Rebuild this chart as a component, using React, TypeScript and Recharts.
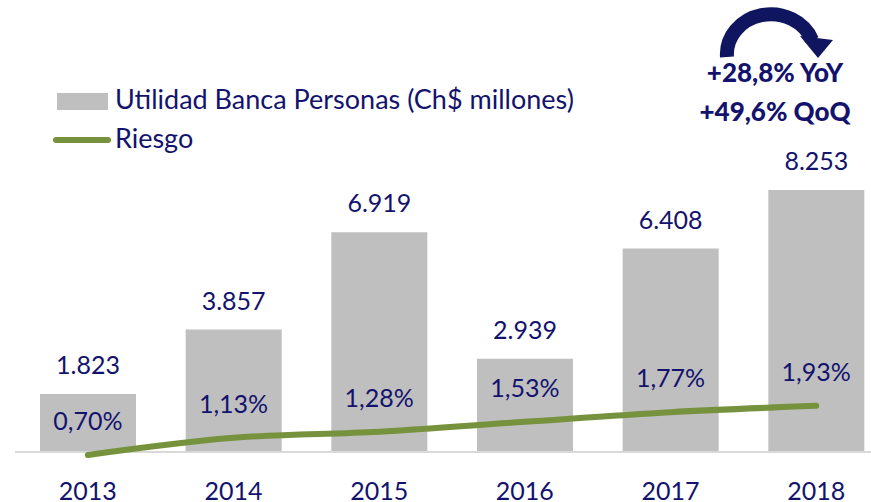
import React from "react";
import {
  ComposedChart,
  Bar,
  Line,
  XAxis,
  YAxis,
  LabelList,
  ReferenceLine,
} from "recharts";

const years = ["2013", "2014", "2015", "2016", "2017", "2018"];
const utilidad = [1823, 3857, 6919, 2939, 6408, 8253];
const riesgo = [0.7, 1.13, 1.28, 1.53, 1.77, 1.93];

const NAVY = "#13136e";
const GREEN = "#76923c";
const GRAY = "#bfbfbf";
const FONT = "Lato, 'Open Sans', sans-serif";

const data = years.map((y, i) => ({ year: y, utilidad: utilidad[i], riesgo: riesgo[i] }));

const fmtMiles = (v: number) => v.toLocaleString("de-DE");
const fmtPct = (v: number) => v.toFixed(2).replace(".", ",") + "%";

// legend + YoY/QoQ note drawn on top of the chart
function Overlay() {
  return (
    <svg
      width={871}
      height={160}
      style={{ position: "absolute", left: 0, top: 0, pointerEvents: "none" }}
    >
      <rect x={57} y={93} width={51} height={17} fill={GRAY} />
      <text x={115} y={109} fill={NAVY} fontSize={27} fontFamily={FONT}>
        Utilidad Banca Personas (Ch$ millones)
      </text>
      <line x1={56} y1={140} x2={108} y2={140} stroke={GREEN} strokeWidth={6} strokeLinecap="round" />
      <text x={115} y={148} fill={NAVY} fontSize={27} fontFamily={FONT}>
        Riesgo
      </text>

      <path d="M 727 57 A 44 40 0 0 1 812 40" fill="none" stroke="#0f155f" strokeWidth={14} />
      <polygon points="800,36 833,40 818,58" fill="#0f155f" />
      <text x={775} y={82} textAnchor="middle" fill={NAVY} fontSize={26} fontWeight="900" fontFamily={FONT}>
        +28,8% YoY
      </text>
      <text x={775} y={121} textAnchor="middle" fill={NAVY} fontSize={26} fontWeight="900" fontFamily={FONT}>
        +49,6% QoQ
      </text>
    </svg>
  );
}

export default function App() {
  return (
    <div style={{ position: "absolute", left: 0, top: 0, width: 871, height: 502, overflow: "hidden", background: "#fff" }}>
      <ComposedChart
        width={889}
        height={502}
        data={data}
        margin={{ top: 132, right: 0, bottom: 0, left: 15 }}
        barCategoryGap={0}
      >
        <XAxis
          dataKey="year"
          axisLine={false}
          tickLine={false}
          height={32}
          tickMargin={6}
          interval={0}
          tick={{ fill: NAVY, fontSize: 25, fontFamily: FONT }}
        />
        <YAxis yAxisId="left" hide type="number" domain={[-567, 10079]} allowDataOverflow />
        <YAxis yAxisId="right" orientation="right" hide type="number" domain={[0.325, 8.775]} allowDataOverflow />
        <ReferenceLine yAxisId="left" y={0} stroke="#d9d9d9" strokeWidth={2} />
        <Bar yAxisId="left" dataKey="utilidad" fill={GRAY} barSize={96} isAnimationActive={false}>
          <LabelList
            dataKey="utilidad"
            position="top"
            offset={20}
            formatter={(v: any) => fmtMiles(Number(v))}
            style={{ fill: NAVY, fontSize: 25, fontFamily: FONT }}
          />
        </Bar>
        <Line
          yAxisId="right"
          dataKey="riesgo"
          type="monotone"
          stroke={GREEN}
          strokeWidth={6}
          strokeLinecap="round"
          dot={false}
          activeDot={false}
          isAnimationActive={false}
        >
          <LabelList
            dataKey="riesgo"
            position="top"
            offset={25}
            formatter={(v: any) => fmtPct(Number(v))}
            style={{ fill: NAVY, fontSize: 25, fontFamily: FONT }}
          />
        </Line>
      </ComposedChart>
      <Overlay />
    </div>
  );
}
